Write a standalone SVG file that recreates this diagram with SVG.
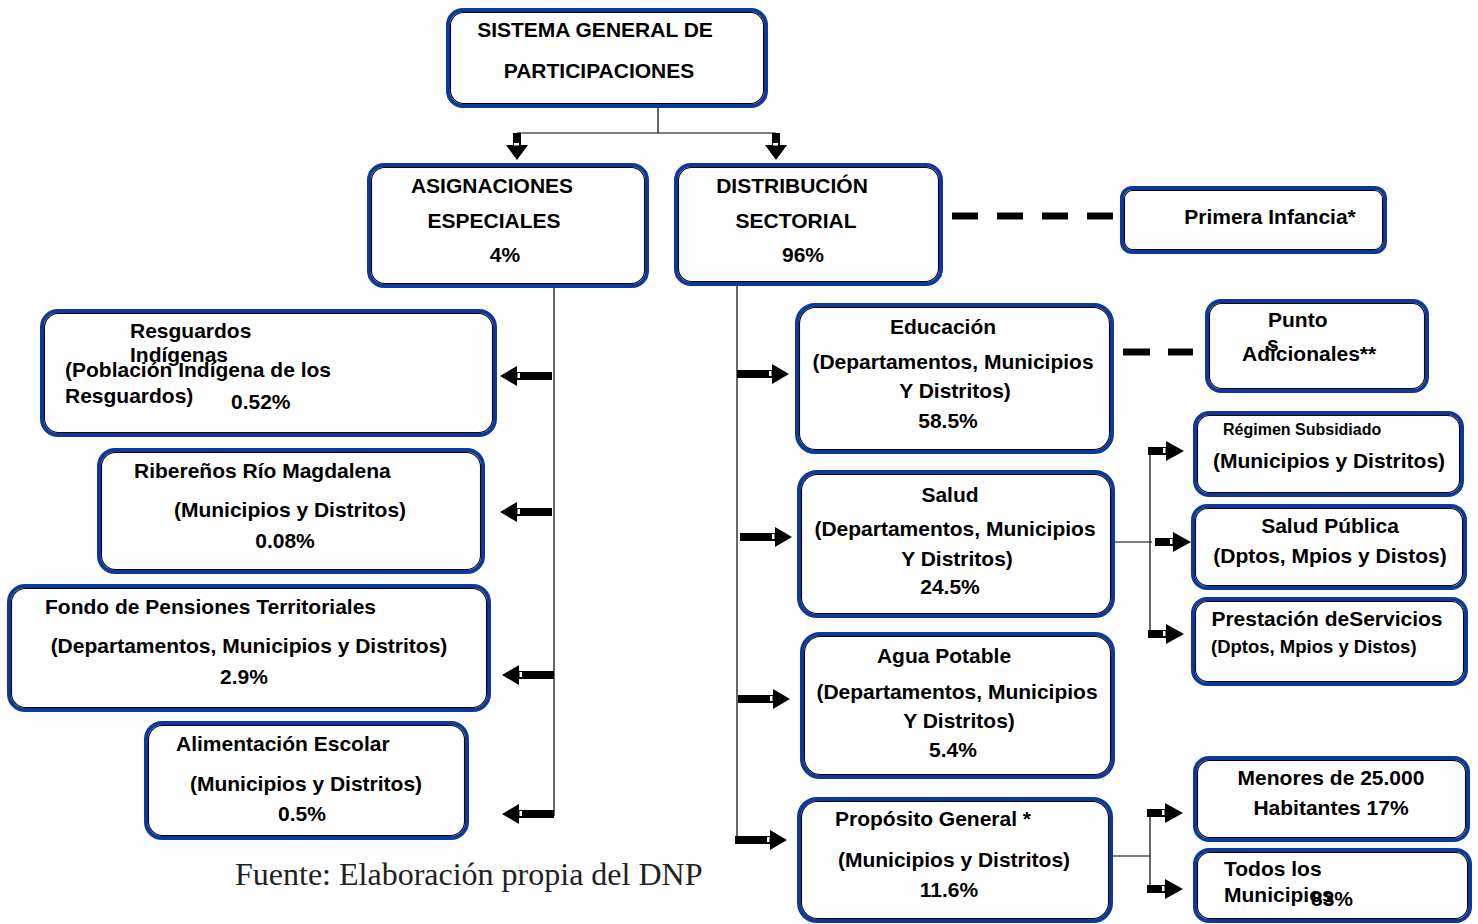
<svg xmlns="http://www.w3.org/2000/svg" width="1478" height="924" viewBox="0 0 1478 924">
<style>
.bo{fill:#fff;stroke:#0b3a9c;stroke-width:4}
.bi{fill:none;stroke:#000;stroke-width:1.1}
text{font-family:"Liberation Sans",Arial,sans-serif;font-weight:bold;font-size:21px;fill:#000}
.m{text-anchor:middle}
.s16{font-size:16px}
.s18{font-size:18.5px}
.src{font-family:"Liberation Serif","Times New Roman",serif;font-weight:normal;font-size:32px;fill:#222}
.ln{fill:none;stroke:#000;stroke-width:1.2}
.dash{fill:none;stroke:#000;stroke-width:7}
</style>
<defs>
<g id="ar">
<path d="M0,-4 H35 V-10 L52,0 L35,10 V4 H0 Z" fill="#000"/>
<rect x="32" y="-3" width="2.5" height="5" fill="#fff"/>
</g>
<g id="as">
<path d="M0,-4 H18 V-10 L36,0 L18,10 V4 H0 Z" fill="#000"/>
<rect x="15" y="-3" width="2.5" height="5" fill="#fff"/>
</g>
<g id="ad">
<path d="M-4,0 V12 H-11 L0,27 L11,12 H4 V0 Z" fill="#000"/>
<rect x="-3" y="10" width="5" height="2.5" fill="#fff"/>
</g>
</defs>

<g id="connectors">
<path class="ln" d="M658,106 V133 M517,133 H776"/>
<path class="ln" d="M554,286 V816"/>
<path class="ln" d="M737,284 V840"/>
<path class="ln" d="M1113,542 H1152 M1150,451 V634"/>
<path class="ln" d="M1111,856 H1150 M1150,813 V889"/>
<path class="dash" d="M952,216 H1113" stroke-dasharray="26 19"/>
<path class="dash" d="M1123,352 H1193" stroke-dasharray="27 18"/>
<use href="#ad" x="517" y="133"/>
<use href="#ad" x="776" y="133"/>
<use href="#ar" transform="translate(552,376) scale(-1,1)"/>
<use href="#ar" transform="translate(552,512) scale(-1,1)"/>
<use href="#ar" transform="translate(554,675) scale(-1,1)"/>
<use href="#ar" transform="translate(554,814) scale(-1,1)"/>
<use href="#ar" x="737" y="374"/>
<use href="#ar" x="740" y="537"/>
<use href="#ar" x="738" y="699"/>
<use href="#ar" x="735" y="840"/>
<use href="#as" x="1148" y="451"/>
<use href="#as" x="1155" y="542"/>
<use href="#as" x="1148" y="634"/>
<use href="#as" x="1147" y="813"/>
<use href="#as" x="1147" y="889"/>
</g>

<g id="sgp">
<rect class="bo" x="448" y="10" width="318" height="96" rx="15"/>
<rect class="bi" x="450.5" y="12.5" width="313" height="91" rx="13"/>
<text class="m" x="595" y="37">SISTEMA GENERAL DE</text>
<text class="m" x="599" y="78">PARTICIPACIONES</text>
</g>

<g id="asignaciones">
<rect class="bo" x="369" y="165" width="278" height="121" rx="15"/>
<rect class="bi" x="371.5" y="167.5" width="273" height="116" rx="13"/>
<text class="m" x="492" y="193">ASIGNACIONES</text>
<text class="m" x="494" y="228">ESPECIALES</text>
<text class="m" x="505" y="262">4%</text>
</g>

<g id="distribucion">
<rect class="bo" x="676" y="165" width="265" height="119" rx="15"/>
<rect class="bi" x="678.5" y="167.5" width="260" height="114" rx="13"/>
<text class="m" x="792" y="193">DISTRIBUCIÓN</text>
<text class="m" x="796" y="228">SECTORIAL</text>
<text class="m" x="803" y="262">96%</text>
</g>

<g id="primera-infancia">
<rect class="bo" x="1122" y="188" width="263" height="64" rx="10"/>
<rect class="bi" x="1124.5" y="190.5" width="258" height="59" rx="8"/>
<text class="m" x="1270" y="224">Primera Infancia*</text>
</g>

<g id="resguardos">
<rect class="bo" x="42" y="311" width="453" height="124" rx="16"/>
<rect class="bi" x="44.5" y="313.5" width="448" height="119" rx="14"/>
<text x="130" y="338">Resguardos</text>
<text x="130" y="362">Indígenas</text>
<text x="65" y="377">(Población Indígena de los</text>
<text x="65" y="403">Resguardos)</text>
<text x="231" y="409">0.52%</text>
</g>

<g id="riberenos">
<rect class="bo" x="99" y="450" width="384" height="122" rx="16"/>
<rect class="bi" x="101.5" y="452.5" width="379" height="117" rx="14"/>
<text x="134" y="478">Ribereños Río Magdalena</text>
<text class="m" x="290" y="517">(Municipios y Distritos)</text>
<text class="m" x="285" y="548">0.08%</text>
</g>

<g id="fondo-pensiones">
<rect class="bo" x="9" y="586" width="480" height="124" rx="16"/>
<rect class="bi" x="11.5" y="588.5" width="475" height="119" rx="14"/>
<text x="45" y="614">Fondo de Pensiones Territoriales</text>
<text class="m" x="249" y="653">(Departamentos, Municipios y Distritos)</text>
<text class="m" x="244" y="684">2.9%</text>
</g>

<g id="alimentacion">
<rect class="bo" x="146" y="723" width="321" height="115" rx="16"/>
<rect class="bi" x="148.5" y="725.5" width="316" height="110" rx="14"/>
<text x="176" y="751">Alimentación Escolar</text>
<text class="m" x="306" y="791">(Municipios y Distritos)</text>
<text class="m" x="302" y="821">0.5%</text>
</g>

<g id="educacion">
<rect class="bo" x="797" y="305" width="315" height="147" rx="18"/>
<rect class="bi" x="799.5" y="307.5" width="310" height="142" rx="16"/>
<text class="m" x="943" y="334">Educación</text>
<text class="m" x="953" y="369">(Departamentos, Municipios</text>
<text class="m" x="955" y="398">Y Distritos)</text>
<text class="m" x="948" y="428">58.5%</text>
</g>

<g id="puntos-adicionales">
<rect class="bo" x="1207" y="301" width="220" height="90" rx="14"/>
<rect class="bi" x="1209.5" y="303.5" width="215" height="85" rx="12"/>
<text x="1268" y="327">Punto</text>
<text x="1267" y="351">s</text>
<text x="1242" y="361">Adicionales**</text>
</g>

<g id="salud">
<rect class="bo" x="799" y="472" width="314" height="144" rx="18"/>
<rect class="bi" x="801.5" y="474.5" width="309" height="139" rx="16"/>
<text class="m" x="950" y="502">Salud</text>
<text class="m" x="955" y="536">(Departamentos, Municipios</text>
<text class="m" x="957" y="566">Y Distritos)</text>
<text class="m" x="950" y="594">24.5%</text>
</g>

<g id="regimen-subsidiado">
<rect class="bo" x="1195" y="413" width="267" height="82" rx="14"/>
<rect class="bi" x="1197.5" y="415.5" width="262" height="77" rx="12"/>
<text class="s16" x="1223" y="435">Régimen Subsidiado</text>
<text class="m" x="1329" y="468">(Municipios y Distritos)</text>
</g>

<g id="salud-publica">
<rect class="bo" x="1193" y="506" width="272" height="82" rx="14"/>
<rect class="bi" x="1195.5" y="508.5" width="267" height="77" rx="12"/>
<text class="m" x="1330" y="533">Salud Pública</text>
<text class="m" x="1330" y="563">(Dptos, Mpios y Distos)</text>
</g>

<g id="prestacion-servicios">
<rect class="bo" x="1193" y="599" width="273" height="85" rx="14"/>
<rect class="bi" x="1195.5" y="601.5" width="268" height="80" rx="12"/>
<text class="m" x="1327" y="626">Prestación deServicios</text>
<text class="s18" x="1211" y="653">(Dptos, Mpios y Distos)</text>
</g>

<g id="agua-potable">
<rect class="bo" x="802" y="634" width="311" height="143" rx="18"/>
<rect class="bi" x="804.5" y="636.5" width="306" height="138" rx="16"/>
<text class="m" x="944" y="663">Agua Potable</text>
<text class="m" x="957" y="699">(Departamentos, Municipios</text>
<text class="m" x="959" y="728">Y Distritos)</text>
<text class="m" x="953" y="757">5.4%</text>
</g>

<g id="proposito-general">
<rect class="bo" x="799" y="799" width="312" height="122" rx="18"/>
<rect class="bi" x="801.5" y="801.5" width="307" height="117" rx="16"/>
<text x="835" y="826">Propósito General *</text>
<text class="m" x="954" y="867">(Municipios y Distritos)</text>
<text class="m" x="949" y="897">11.6%</text>
</g>

<g id="menores">
<rect class="bo" x="1195" y="758" width="273" height="82" rx="14"/>
<rect class="bi" x="1197.5" y="760.5" width="268" height="77" rx="12"/>
<text class="m" x="1331" y="785">Menores de 25.000</text>
<text class="m" x="1331" y="815">Habitantes 17%</text>
</g>

<g id="todos-municipios">
<rect class="bo" x="1195" y="850" width="275" height="71" rx="14"/>
<rect class="bi" x="1197.5" y="852.5" width="270" height="66" rx="12"/>
<text x="1224" y="876">Todos los</text>
<text x="1224" y="902">Municipios</text>
<text x="1311" y="906">83%</text>
</g>

<g id="fuente">
<text class="src" x="235" y="885">Fuente: Elaboración propia del DNP</text>
</g>
</svg>
